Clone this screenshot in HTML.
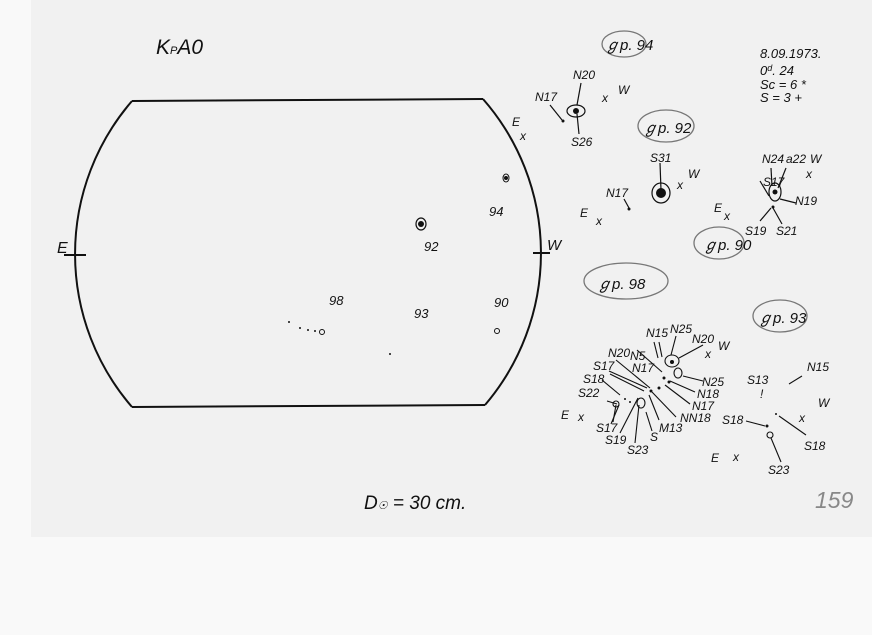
<!DOCTYPE html>
<html><head><meta charset="utf-8"><style>
html,body{margin:0;padding:0;background:#f9f9f9;}
svg{display:block}
text{font-family:"Liberation Sans",sans-serif;font-style:italic;fill:#111;}
</style></head><body>
<svg width="872" height="635" viewBox="0 0 872 635" xmlns="http://www.w3.org/2000/svg">
<rect x="0" y="0" width="872" height="635" fill="#f9f9f9"/>
<rect x="31" y="0" width="841" height="537" fill="#f1f1f1"/>
<g stroke="#111" stroke-width="2" fill="none">
<line x1="132" y1="101" x2="483" y2="99"/>
<line x1="132" y1="407" x2="485" y2="405"/>
<path d="M132 101 A234 234 0 0 0 132 407"/>
<path d="M483 99 A234 234 0 0 1 485 405"/>
<line x1="64" y1="255" x2="86" y2="255"/>
<line x1="533" y1="253" x2="550" y2="253"/>
</g>
<text x="156" y="54" font-size="21">K<tspan font-size="11">P</tspan>A0</text>
<text x="57" y="253" font-size="16">E</text>
<text x="547" y="250" font-size="15">W</text>
<g fill="#111">
<ellipse cx="421" cy="224" rx="5" ry="6" fill="none" stroke="#111" stroke-width="1.2"/>
<circle cx="421" cy="224" r="3"/>
<ellipse cx="506" cy="178" rx="3" ry="4" fill="none" stroke="#111"/>
<circle cx="506" cy="178" r="2"/>
<circle cx="497" cy="331" r="2.5" fill="none" stroke="#111"/>
<circle cx="322" cy="332" r="2.5" fill="none" stroke="#111"/>
<circle cx="300" cy="328" r="1"/><circle cx="308" cy="330" r="1"/><circle cx="315" cy="331" r="1"/>
<circle cx="390" cy="354" r="1"/><circle cx="289" cy="322" r="1"/>
</g>
<g font-size="13">
<text x="424" y="251">92</text>
<text x="489" y="216">94</text>
<text x="329" y="305">98</text>
<text x="414" y="318">93</text>
<text x="494" y="307">90</text>
</g>
<text x="364" y="509" font-size="19">D<tspan font-size="11">☉</tspan> = 30 cm.</text>
<text x="815" y="508" font-size="23" style="fill:#888">159</text>
<g font-size="13">
<text x="760" y="58">8.09.1973.</text>
<text x="760" y="75">0<tspan font-size="9" dy="-4">d</tspan><tspan dy="4">. 24</tspan></text>
<text x="760" y="89">Sc = 6 *</text>
<text x="760" y="102">S = 3 +</text>
</g>
<g fill="none" stroke="#777" stroke-width="1.3">
<ellipse cx="624" cy="44" rx="22" ry="13"/>
<ellipse cx="666" cy="126" rx="28" ry="16"/>
<ellipse cx="719" cy="243" rx="25" ry="16"/>
<ellipse cx="626" cy="281" rx="42" ry="18"/>
<ellipse cx="780" cy="316" rx="27" ry="16"/>
</g>
<g font-size="15">
<text x="605" y="50">ℊp. 94</text>
<text x="643" y="133">ℊp. 92</text>
<text x="703" y="250">ℊp. 90</text>
<text x="597" y="289">ℊp.  98</text>
<text x="758" y="323">ℊp. 93</text>
</g>
<g font-size="12">
<text x="573" y="79">N20</text><text x="535" y="101">N17</text><text x="571" y="146">S26</text>
<text x="512" y="126">E</text><text x="520" y="140">x</text>
<text x="602" y="102">x</text><text x="618" y="94">W</text>
<text x="650" y="162">S31</text><text x="677" y="189">x</text><text x="688" y="178">W</text>
<text x="606" y="197">N17</text><text x="580" y="217">E</text><text x="596" y="225">x</text>
<text x="763" y="186">S17</text><text x="762" y="163">N24</text><text x="786" y="163">a22</text><text x="810" y="163">W</text>
<text x="806" y="178">x</text><text x="795" y="205">N19</text><text x="745" y="235">S19</text><text x="776" y="235">S21</text>
<text x="714" y="212">E</text><text x="724" y="220">x</text>
</g>
<g stroke="#111" stroke-width="1.2" fill="none">
<ellipse cx="576" cy="111" rx="9" ry="6"/>
<line x1="581" y1="83" x2="577" y2="105"/><line x1="577" y1="114" x2="579" y2="134"/>
<line x1="550" y1="105" x2="562" y2="120"/>
<ellipse cx="661" cy="193" rx="9" ry="10"/>
<line x1="660" y1="163" x2="661" y2="190"/>
<line x1="624" y1="199" x2="629" y2="208"/>
<ellipse cx="775" cy="192" rx="6" ry="9"/>
<line x1="771" y1="168" x2="772" y2="186"/><line x1="786" y1="168" x2="778" y2="188"/>
<line x1="760" y1="181" x2="769" y2="196"/><line x1="780" y1="199" x2="796" y2="203"/>
<line x1="771" y1="208" x2="760" y2="221"/><line x1="773" y1="208" x2="782" y2="224"/>
</g>
<g fill="#111">
<circle cx="576" cy="111" r="3"/><circle cx="563" cy="121" r="1.5"/>
<circle cx="661" cy="193" r="5"/><circle cx="629" cy="209" r="1.5"/>
<circle cx="775" cy="192" r="2.5"/><circle cx="773" cy="207" r="1.5"/>
</g>
<g font-size="12">
<text x="630" y="360">N5</text><text x="646" y="337">N15</text><text x="670" y="333">N25</text><text x="692" y="343">N20</text>
<text x="705" y="358">x</text><text x="718" y="350">W</text>
<text x="608" y="357">N20</text><text x="593" y="370">S17</text><text x="583" y="383">S18</text><text x="578" y="397">S22</text>
<text x="632" y="372">N17</text>
<text x="702" y="386">N25</text><text x="697" y="398">N18</text><text x="692" y="410">N17</text><text x="680" y="422">NN18</text>
<text x="561" y="419">E</text><text x="578" y="421">x</text>
<text x="596" y="432">S17</text><text x="605" y="444">S19</text><text x="627" y="454">S23</text>
<text x="650" y="441">S</text><text x="659" y="432">M13</text>
</g>
<g stroke="#111" stroke-width="1.1" fill="none">
<ellipse cx="672" cy="361" rx="7" ry="6"/><ellipse cx="678" cy="373" rx="4" ry="5"/>
<line x1="676" y1="336" x2="671" y2="355"/><line x1="703" y1="345" x2="679" y2="358"/>
<line x1="654" y1="342" x2="658" y2="358"/><line x1="659" y1="342" x2="662" y2="357"/>
<line x1="637" y1="350" x2="662" y2="372"/>
<line x1="616" y1="360" x2="650" y2="388"/>
<line x1="609" y1="371" x2="647" y2="388"/><line x1="610" y1="374" x2="644" y2="391"/>
<line x1="602" y1="380" x2="620" y2="395"/><line x1="607" y1="401" x2="617" y2="404"/>
<line x1="683" y1="376" x2="703" y2="381"/><line x1="670" y1="381" x2="695" y2="392"/>
<line x1="665" y1="385" x2="690" y2="404"/><line x1="652" y1="392" x2="676" y2="417"/>
<line x1="616" y1="405" x2="613" y2="422"/><line x1="619" y1="405" x2="611" y2="424"/>
<line x1="638" y1="398" x2="620" y2="433"/><line x1="639" y1="405" x2="635" y2="443"/>
<line x1="646" y1="412" x2="652" y2="431"/><line x1="649" y1="395" x2="659" y2="420"/>
<ellipse cx="641" cy="403" rx="4" ry="5"/><circle cx="616" cy="404" r="3"/>
</g>
<g fill="#111">
<circle cx="664" cy="378" r="1.5"/><circle cx="669" cy="382" r="1.5"/><circle cx="651" cy="391" r="1.5"/>
<circle cx="659" cy="388" r="1.5"/><circle cx="625" cy="399" r="1"/><circle cx="630" cy="402" r="1"/>
<circle cx="672" cy="362" r="2"/>
</g>
<g font-size="12">
<text x="807" y="371">N15</text><text x="747" y="384">S13</text><text x="760" y="398">!</text>
<text x="818" y="407">W</text><text x="799" y="422">x</text>
<text x="722" y="424">S18</text><text x="804" y="450">S18</text>
<text x="711" y="462">E</text><text x="733" y="461">x</text><text x="768" y="474">S23</text>
</g>
<g stroke="#111" stroke-width="1.1" fill="none">
<line x1="789" y1="384" x2="802" y2="376"/>
<line x1="746" y1="421" x2="765" y2="426"/>
<line x1="779" y1="416" x2="806" y2="435"/>
<circle cx="770" cy="435" r="3"/><line x1="771" y1="438" x2="781" y2="462"/>
</g>
<g fill="#111"><circle cx="767" cy="426" r="1.5"/><circle cx="776" cy="414" r="1"/></g>
</svg>
</body></html>
